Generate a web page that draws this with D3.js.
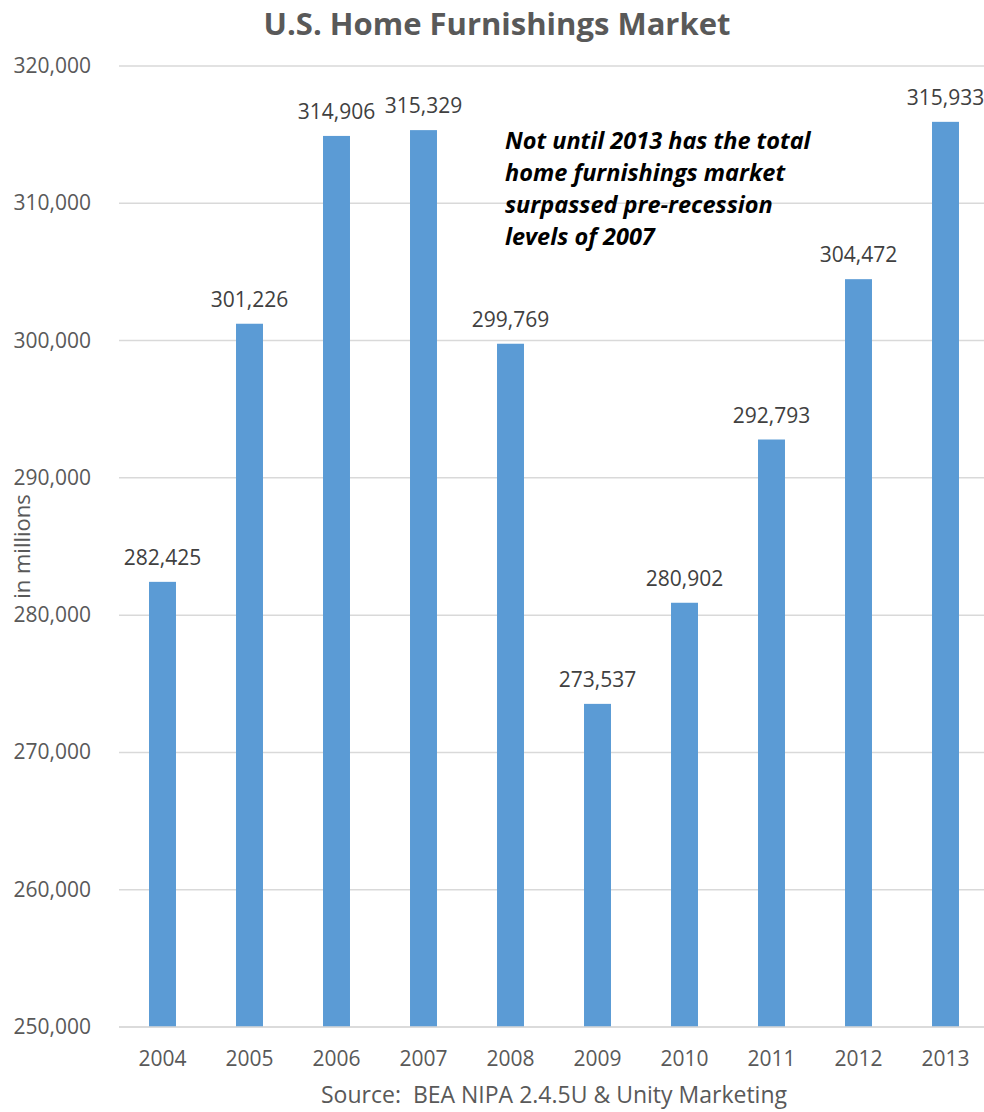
<!DOCTYPE html>
<html>
<head>
<meta charset="utf-8">
<script src="https://cdn.jsdelivr.net/npm/d3@7"></script>
<style>
    body { margin: 0; background: #fff; }
    svg { display: block; font-family: "Open Sans", sans-serif; }
</style>
</head>
<body>
<svg id="chart" width="984" height="1112"></svg>
<script>
var years = [ "2004", "2005", "2006", "2007", "2008", "2009", "2010", "2011", "2012", "2013" ];
var values = [ 282425, 301226, 314906, 315329, 299769, 273537, 280902, 292793, 304472, 315933 ];
var yTicks = [ 250000, 260000, 270000, 280000, 290000, 300000, 310000, 320000 ];
var noteLines = [
    "Not until 2013 has the total",
    "home furnishings market",
    "surpassed pre-recession",
    "levels of 2007"
];

(function () {
    var svg = d3.select( "#chart" );
    var plotLeft = 119, plotRight = 989, plotTop = 66, plotBottom = 1027;
    var grey = "#595959";

    var x = d3.scaleBand()
        .domain( years )
        .range( [ plotLeft, plotRight ] )
        .paddingInner( 0.69 )
        .paddingOuter( 0.345 );

    var y = d3.scaleLinear()
        .domain( [ 250000, 320000 ] )
        .range( [ plotBottom, plotTop ] );

    var fmt = d3.format( "," );

    // gridlines
    svg.append( "g" ).selectAll( "line" )
        .data( yTicks )
        .enter().append( "line" )
        .attr( "x1", plotLeft )
        .attr( "x2", 984 )
        .attr( "y1", function ( d ) { return y( d ) } )
        .attr( "y2", function ( d ) { return y( d ) } )
        .attr( "stroke", "#d9d9d9" )
        .attr( "stroke-width", 1.5 );

    // y tick labels
    svg.append( "g" ).selectAll( "text" )
        .data( yTicks )
        .enter().append( "text" )
        .attr( "x", 91 )
        .attr( "y", function ( d ) { return y( d ) + 7 } )
        .attr( "text-anchor", "end" )
        .attr( "font-size", 21 )
        .attr( "fill", grey )
        .text( fmt );

    // bars
    svg.append( "g" ).selectAll( "rect" )
        .data( values )
        .enter().append( "rect" )
        .attr( "x", function ( d, i ) { return x( years[ i ] ) } )
        .attr( "width", x.bandwidth() )
        .attr( "y", function ( d ) { return y( d ) } )
        .attr( "height", function ( d ) { return plotBottom - y( d ) } )
        .attr( "fill", "#5b9bd5" );

    // value labels
    svg.append( "g" ).selectAll( "text" )
        .data( values )
        .enter().append( "text" )
        .attr( "x", function ( d, i ) { return x( years[ i ] ) + x.bandwidth() / 2 } )
        .attr( "y", function ( d ) { return y( d ) - 17 } )
        .attr( "text-anchor", "middle" )
        .attr( "font-size", 21 )
        .attr( "fill", "#404040" )
        .text( fmt );

    // x axis line, drawn over the bar bottoms
    svg.append( "line" )
        .attr( "x1", plotLeft ).attr( "x2", 984 )
        .attr( "y1", plotBottom ).attr( "y2", plotBottom )
        .attr( "stroke", "#d9d9d9" )
        .attr( "stroke-width", 1.5 );

    // year labels
    svg.append( "g" ).selectAll( "text" )
        .data( years )
        .enter().append( "text" )
        .attr( "x", function ( d ) { return x( d ) + x.bandwidth() / 2 } )
        .attr( "y", 1066 )
        .attr( "text-anchor", "middle" )
        .attr( "font-size", 21 )
        .attr( "fill", grey )
        .text( function ( d ) { return d } );

    // title
    svg.append( "text" )
        .attr( "x", 497 )
        .attr( "y", 35 )
        .attr( "text-anchor", "middle" )
        .attr( "font-size", 31 )
        .attr( "font-weight", "bold" )
        .attr( "fill", grey )
        .text( "U.S. Home Furnishings Market" );

    // axis titles
    svg.append( "text" )
        .attr( "transform", "translate(30," + ( ( plotTop + plotBottom ) / 2 ) + ") rotate(-90)" )
        .attr( "text-anchor", "middle" )
        .attr( "font-size", 22 )
        .attr( "fill", grey )
        .text( "in millions" );

    svg.append( "text" )
        .attr( "x", ( plotLeft + plotRight ) / 2 )
        .attr( "y", 1103 )
        .attr( "text-anchor", "middle" )
        .attr( "font-size", 23 )
        .attr( "fill", grey )
        .style( "white-space", "pre" )
        .text( "Source:  BEA NIPA 2.4.5U & Unity Marketing" );

    // annotation
    svg.append( "text" )
        .attr( "x", 505 )
        .attr( "y", 149 )
        .attr( "font-size", 23.5 )
        .attr( "font-weight", "bold" )
        .attr( "font-style", "italic" )
        .attr( "fill", "#000" )
        .selectAll( "tspan" )
        .data( noteLines )
        .enter().append( "tspan" )
        .attr( "x", 505 )
        .attr( "dy", function ( d, i ) { return i ? 32 : 0 } )
        .text( function ( d ) { return d } );
})();
</script>
</body>
</html>
